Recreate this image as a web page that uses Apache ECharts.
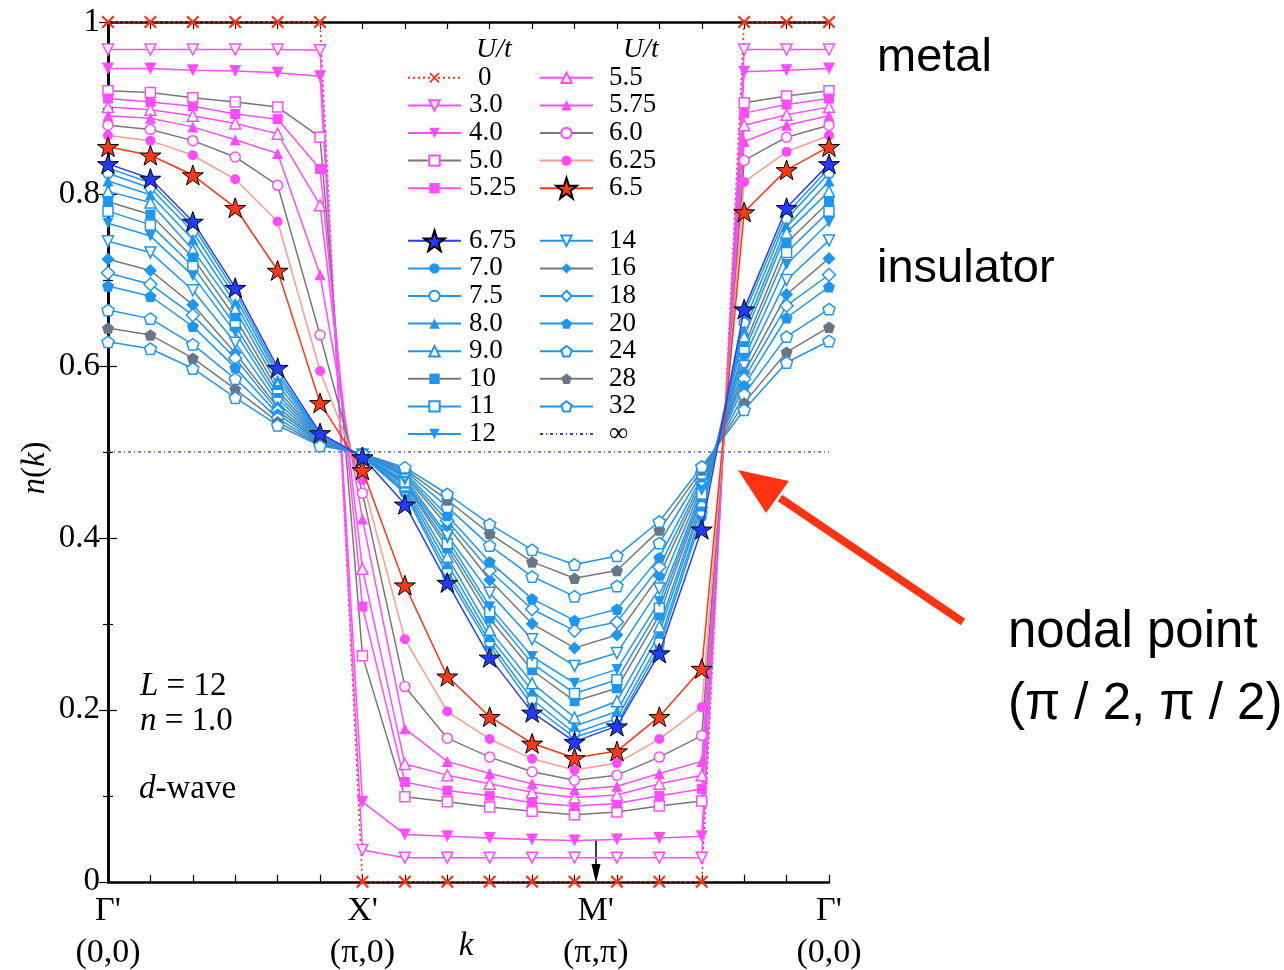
<!DOCTYPE html>
<html>
<head>
<meta charset="utf-8">
<script src="https://cdn.jsdelivr.net/npm/echarts@6/dist/echarts.min.js"></script>
<style>html,body{margin:0;padding:0;background:#fff;}#c{width:1284px;height:970px;}</style>
</head>
<body>
<div id="c"></div>
<script>
// ---- data ----
const kIndex = [0,1,2,3,4,5,6,7,8,9,10,11,12,13,14,15,16,17];
const kLabelPos = [0, 6, 11.5, 17];
const kLabelTop = ["Γ'", "X'", "M'", "Γ'"];
const kLabelBottom = ["(0,0)", "(π,0)", "(π,π)", "(0,0)"];
const yTicks = [0, 0.2, 0.4, 0.6, 0.8, 1];

const nU0    = [1,1,1,1,1,1,0,0,0,0,0,0,0,0,0,1,1,1];
const nU3_0  = [0.968,0.968,0.968,0.968,0.968,0.967,0.037,0.028,0.028,0.028,0.028,0.028,0.028,0.028,0.028,0.968,0.968,0.968];
const nU4_0  = [0.946,0.946,0.944,0.943,0.941,0.937,0.093,0.055,0.053,0.051,0.049,0.048,0.049,0.051,0.053,0.942,0.944,0.946];
const nU5_0  = [0.920,0.918,0.912,0.907,0.901,0.866,0.263,0.099,0.093,0.087,0.082,0.078,0.081,0.088,0.094,0.906,0.914,0.920];
const nU5_25 = [0.911,0.907,0.902,0.893,0.887,0.829,0.320,0.116,0.106,0.100,0.092,0.088,0.091,0.100,0.108,0.894,0.904,0.911];
const nU5_5  = [0.901,0.898,0.891,0.882,0.870,0.787,0.364,0.137,0.124,0.114,0.104,0.098,0.101,0.114,0.124,0.880,0.892,0.901];
const nU5_75 = [0.891,0.888,0.878,0.863,0.847,0.706,0.422,0.178,0.140,0.126,0.114,0.107,0.111,0.126,0.140,0.861,0.880,0.891];
const nU6_0  = [0.880,0.875,0.862,0.843,0.810,0.636,0.452,0.227,0.167,0.145,0.128,0.118,0.124,0.145,0.170,0.839,0.866,0.880];
const nU6_25 = [0.868,0.862,0.845,0.817,0.768,0.594,0.467,0.282,0.198,0.166,0.143,0.130,0.138,0.166,0.203,0.814,0.849,0.868];
const nU6_5  = [0.855,0.845,0.822,0.784,0.711,0.557,0.479,0.345,0.239,0.192,0.161,0.144,0.152,0.192,0.248,0.779,0.828,0.855];
const nU6_75 = [0.835,0.818,0.768,0.691,0.598,0.522,0.494,0.439,0.348,0.261,0.197,0.163,0.181,0.266,0.410,0.666,0.784,0.835];
const nU7_0  = [0.830,0.813,0.763,0.686,0.593,0.520,0.495,0.452,0.356,0.274,0.205,0.168,0.184,0.273,0.424,0.660,0.777,0.830];
const nU7_5  = [0.824,0.807,0.756,0.680,0.589,0.519,0.495,0.455,0.362,0.279,0.212,0.173,0.190,0.279,0.430,0.650,0.771,0.824];
const nU8_0  = [0.815,0.799,0.747,0.673,0.584,0.518,0.495,0.458,0.370,0.285,0.222,0.181,0.198,0.289,0.437,0.641,0.762,0.815];
const nU9_0  = [0.803,0.790,0.735,0.666,0.578,0.517,0.496,0.461,0.378,0.293,0.231,0.191,0.210,0.297,0.442,0.634,0.755,0.803];
const nU10   = [0.791,0.776,0.726,0.656,0.572,0.516,0.496,0.463,0.388,0.306,0.246,0.210,0.225,0.310,0.447,0.623,0.743,0.791];
const nU11   = [0.780,0.764,0.716,0.647,0.567,0.515,0.496,0.465,0.393,0.314,0.254,0.219,0.235,0.318,0.451,0.617,0.732,0.780];
const nU12   = [0.766,0.751,0.705,0.639,0.562,0.514,0.496,0.467,0.399,0.320,0.262,0.231,0.247,0.326,0.455,0.609,0.718,0.767];
const nU14   = [0.745,0.732,0.688,0.627,0.557,0.513,0.497,0.470,0.403,0.336,0.282,0.251,0.266,0.341,0.459,0.600,0.700,0.746];
const nU16   = [0.724,0.711,0.671,0.615,0.552,0.512,0.497,0.472,0.414,0.351,0.300,0.272,0.287,0.356,0.463,0.592,0.683,0.725];
const nU18   = [0.708,0.695,0.659,0.609,0.548,0.511,0.497,0.474,0.420,0.362,0.317,0.292,0.302,0.366,0.467,0.585,0.670,0.706];
const nU20   = [0.693,0.681,0.646,0.598,0.544,0.510,0.497,0.476,0.426,0.372,0.329,0.304,0.317,0.377,0.471,0.577,0.656,0.692];
const nU24   = [0.665,0.655,0.625,0.585,0.539,0.509,0.498,0.478,0.436,0.391,0.355,0.332,0.344,0.394,0.475,0.567,0.634,0.666];
const nU28   = [0.644,0.636,0.609,0.573,0.535,0.508,0.498,0.480,0.444,0.405,0.372,0.353,0.362,0.409,0.479,0.557,0.616,0.645];
const nU32   = [0.628,0.620,0.597,0.563,0.531,0.507,0.498,0.482,0.451,0.416,0.386,0.369,0.379,0.419,0.483,0.549,0.604,0.629];
const nUinf  = [0.5,0.5,0.5,0.5,0.5,0.5,0.5,0.5,0.5,0.5,0.5,0.5,0.5,0.5,0.5,0.5,0.5,0.5];

// ---- styles ----
const MAG = '#ff4cff', BLUE = '#1e96f0', GRAY = '#777777', SALMON = '#ff9a8c',
      RED = '#ff3311', DBLUE = '#2a3cf0', PGRAY = '#6a7688';
const STAR = 'path://M50,0 L61.8,35.1 L98.1,35.1 L68.8,56.7 L79.4,90.5 L50,69.6 L20.6,90.5 L31.2,56.7 L1.9,35.1 L38.2,35.1 Z';
const PENT = 'path://M50,0 L97.6,34.5 L79.4,90.5 L20.6,90.5 L2.4,34.5 Z';
const XMARK = 'path://M0,1.2 L1.2,0 L5,3.8 L8.8,0 L10,1.2 L6.2,5 L10,8.8 L8.8,10 L5,6.2 L1.2,10 L0,8.8 L3.8,5 Z';
const SERIF = 'Liberation Serif';

function mk(name, vals, o) {
  const open = o.open;
  let itemStyle;
  if (o.hidden) itemStyle = { color: 'rgba(0,0,0,0)', borderWidth: 0 };
  else if (open) itemStyle = { color: '#fff', borderColor: o.mc, borderWidth: 1.5 };
  else itemStyle = { color: o.mc, borderColor: o.bc || o.mc, borderWidth: o.bw || 0 };
  return {
    name: name, type: 'line', xAxisIndex: 0, yAxisIndex: 0,
    data: kIndex.map((k, i) => [k, vals[i]]),
    symbol: o.symbol, symbolSize: o.size || 10, symbolRotate: o.rot || 0, symbolKeepAspect: true,
    showSymbol: !o.hidden,
    lineStyle: { color: o.line, width: o.lw || 1.5, type: o.ltype || 'solid' },
    itemStyle: itemStyle,
    z: o.z || 2, animation: false, silent: true, clip: false
  };
}

const series = [
  mk('0', nU0, { symbol: XMARK, size: 13, line: RED, mc: RED, ltype: [2, 3] }),
  mk('3.0', nU3_0, { symbol: 'triangle', rot: 180, size: 11, line: MAG, mc: MAG, open: true }),
  mk('4.0', nU4_0, { symbol: 'triangle', rot: 180, size: 12, line: MAG, mc: MAG }),
  mk('5.0', nU5_0, { symbol: 'rect', size: 10, line: GRAY, mc: MAG, open: true }),
  mk('5.25', nU5_25, { symbol: 'rect', size: 10, line: MAG, mc: MAG }),
  mk('5.5', nU5_5, { symbol: 'triangle', size: 11, line: MAG, mc: MAG, open: true }),
  mk('5.75', nU5_75, { symbol: 'triangle', size: 11, line: MAG, mc: MAG }),
  mk('6.0', nU6_0, { symbol: 'circle', size: 10, line: GRAY, mc: MAG, open: true }),
  mk('6.25', nU6_25, { symbol: 'circle', size: 10, line: SALMON, mc: MAG }),
  mk('7.0', nU7_0, { symbol: 'circle', size: 10, line: BLUE, mc: BLUE }),
  mk('7.5', nU7_5, { symbol: 'circle', size: 10, line: BLUE, mc: BLUE, open: true }),
  mk('8.0', nU8_0, { symbol: 'triangle', size: 11, line: BLUE, mc: BLUE }),
  mk('9.0', nU9_0, { symbol: 'triangle', size: 11, line: BLUE, mc: BLUE, open: true }),
  mk('10', nU10, { symbol: 'rect', size: 10, line: GRAY, mc: BLUE }),
  mk('11', nU11, { symbol: 'rect', size: 10, line: BLUE, mc: BLUE, open: true }),
  mk('12', nU12, { symbol: 'triangle', rot: 180, size: 11, line: BLUE, mc: BLUE }),
  mk('14', nU14, { symbol: 'triangle', rot: 180, size: 11, line: BLUE, mc: BLUE, open: true }),
  mk('16', nU16, { symbol: 'diamond', size: 13, line: GRAY, mc: BLUE }),
  mk('18', nU18, { symbol: 'diamond', size: 13, line: BLUE, mc: BLUE, open: true }),
  mk('20', nU20, { symbol: PENT, size: 12, line: BLUE, mc: BLUE }),
  mk('24', nU24, { symbol: PENT, size: 12, line: BLUE, mc: BLUE, open: true }),
  mk('28', nU28, { symbol: PENT, size: 12, line: GRAY, mc: PGRAY }),
  mk('32', nU32, { symbol: PENT, size: 12, line: BLUE, mc: BLUE, open: true }),
  mk('∞', nUinf, { symbol: 'circle', size: 1, hidden: true, line: DBLUE, mc: DBLUE, ltype: [3, 3, 1, 3], lw: 1.2, z: 1 }),
  mk('6.5', nU6_5, { symbol: STAR, size: 21, line: RED, mc: '#ff3a14', bc: '#000', bw: 1, z: 4 }),
  mk('6.75', nU6_75, { symbol: STAR, size: 21, line: DBLUE, mc: '#1f3cff', bc: '#000', bw: 1, z: 4 })
];

const ROW = 27.6;
function legendCol(names, left, top, padLeft, itemH) {
  return {
    orient: 'vertical', left: left, top: top, padding: 0,
    itemWidth: 53, itemHeight: itemH || 13, itemGap: 0, selectedMode: false,
    data: names.map(n => n === '0' ? { name: n, textStyle: { padding: [0, 0, 0, padLeft + 9] } } : n),
    textStyle: { fontFamily: SERIF, fontSize: 27, color: '#000', lineHeight: ROW, padding: [0, 0, 0, padLeft] }
  };
}

const axisLine = { show: true, lineStyle: { color: '#000', width: 2.5 } };

const option = {
  backgroundColor: '#fff',
  animation: false,
  grid: { left: 108, right: 455, top: 22, bottom: 86, containLabel: false },
  xAxis: [
    { type: 'value', position: 'bottom', min: 0, max: 17, interval: 1,
      axisLine: axisLine, axisTick: { inside: true, length: 7, lineStyle: { color: '#000', width: 1.2 } },
      axisLabel: { show: false }, splitLine: { show: false } },
    { type: 'value', position: 'bottom', min: 0, max: 17, interval: 0.5,
      axisLine: { show: false }, axisTick: { show: false }, splitLine: { show: false },
      axisLabel: { show: true, interval: 0, margin: 9, hideOverlap: false,
        formatter: function (v) {
          const i = kLabelPos.findIndex(p => Math.abs(p - v) < 1e-6);
          return i < 0 ? '' : '{a|' + kLabelTop[i] + '}\n{a|' + kLabelBottom[i] + '}';
        },
        rich: { a: { fontFamily: SERIF, fontSize: 34, lineHeight: 41.5, color: '#000' } } } },
    { type: 'value', position: 'top', min: 0, max: 17, interval: 1,
      axisLine: axisLine, axisTick: { inside: true, length: 7, lineStyle: { color: '#000', width: 1.2 } },
      axisLabel: { show: false }, splitLine: { show: false } }
  ],
  yAxis: [
    { type: 'value', position: 'left', min: yTicks[0], max: yTicks[yTicks.length - 1], interval: 0.2,
      axisLine: axisLine,
      axisTick: { inside: true, length: 9, lineStyle: { color: '#000', width: 1.2 } },
      minorTick: { show: true, splitNumber: 2, length: 5, lineStyle: { color: '#000', width: 1.2 } },
      axisLabel: { margin: 8, fontFamily: SERIF, fontSize: 33, color: '#000',
        formatter: v => (v === 0 ? '0' : (Math.abs(v - 1) < 1e-9 ? '1' : v.toFixed(1))) },
      splitLine: { show: false } },
    { type: 'value', position: 'right', min: 0, max: 1, interval: 0.2,
      axisLine: axisLine,
      axisTick: { inside: true, length: 9, lineStyle: { color: '#000', width: 1.2 } },
      minorTick: { show: true, splitNumber: 2, length: 5, lineStyle: { color: '#000', width: 1.2 } },
      axisLabel: { show: false }, splitLine: { show: false } }
  ],
  legend: [
    legendCol(['0', '3.0', '4.0', '5.0', '5.25'], 407, 64, 3),
    legendCol(['5.5', '5.75', '6.0', '6.25'], 539, 64, 11),
    legendCol(['6.5'], 539, 64 + 4 * ROW, 11, 26),
    legendCol(['6.75'], 407, 227, 3, 26),
    legendCol(['7.0', '7.5', '8.0', '9.0', '10', '11', '12'], 407, 227 + ROW, 3),
    legendCol(['14', '16', '18', '20', '24', '28', '32', '∞'], 539, 227, 11)
  ],
  series: series,
  graphic: [
    { type: 'text', x: 494, y: 50, style: { text: 'U/t', font: 'italic 28px "Liberation Serif"', fill: '#000', align: 'center', verticalAlign: 'middle' } },
    { type: 'text', x: 641, y: 50, style: { text: 'U/t', font: 'italic 28px "Liberation Serif"', fill: '#000', align: 'center', verticalAlign: 'middle' } },
    { type: 'text', x: 877, y: 58, style: { text: 'metal', font: '47px "Liberation Sans"', fill: '#000', align: 'left', verticalAlign: 'middle' } },
    { type: 'text', x: 877, y: 269, style: { text: 'insulator', font: '47px "Liberation Sans"', fill: '#000', align: 'left', verticalAlign: 'middle' } },
    { type: 'text', x: 1008, y: 633, style: { text: 'nodal point', font: '51px "Liberation Sans"', fill: '#000', align: 'left', verticalAlign: 'middle' } },
    { type: 'text', x: 1008, y: 705, style: { text: '(π / 2, π / 2)', font: '51px "Liberation Sans"', fill: '#000', align: 'left', verticalAlign: 'middle' } },
    { type: 'line', shape: { x1: 963, y1: 622, x2: 780, y2: 498 }, style: { stroke: '#ff3311', lineWidth: 8 } },
    { type: 'polygon', shape: { points: [[738, 470], [789, 481], [766, 513]] }, style: { fill: '#ff3311' } },
    { type: 'line', shape: { x1: 596, y1: 840, x2: 596, y2: 868 }, style: { stroke: '#000', lineWidth: 1.5 } },
    { type: 'polygon', shape: { points: [[591.5, 864], [600.5, 864], [596, 883]] }, style: { fill: '#000' } },
    { type: 'text', x: 140, y: 686, style: { text: '{i|L} = 12', rich: { i: { font: 'italic 33px "Liberation Serif"' } }, font: '33px "Liberation Serif"', fill: '#000', align: 'left', verticalAlign: 'middle' } },
    { type: 'text', x: 140, y: 721, style: { text: '{i|n} = 1.0', rich: { i: { font: 'italic 33px "Liberation Serif"' } }, font: '33px "Liberation Serif"', fill: '#000', align: 'left', verticalAlign: 'middle' } },
    { type: 'text', x: 139, y: 789, style: { text: '{i|d}-wave', rich: { i: { font: 'italic 33px "Liberation Serif"' } }, font: '33px "Liberation Serif"', fill: '#000', align: 'left', verticalAlign: 'middle' } },
    { type: 'text', x: 466, y: 946, style: { text: 'k', font: 'italic 33px "Liberation Serif"', fill: '#000', align: 'center', verticalAlign: 'middle' } },
    { type: 'text', x: 35, y: 468, rotation: Math.PI / 2, style: { text: '{i|n}({i|k})', rich: { i: { font: 'italic 33px "Liberation Serif"' } }, font: '33px "Liberation Serif"', fill: '#000', align: 'center', verticalAlign: 'middle' } }
  ]
};

const chart = echarts.init(document.getElementById('c'), null, { renderer: 'canvas' });
chart.setOption(option);
</script>
</body>
</html>
